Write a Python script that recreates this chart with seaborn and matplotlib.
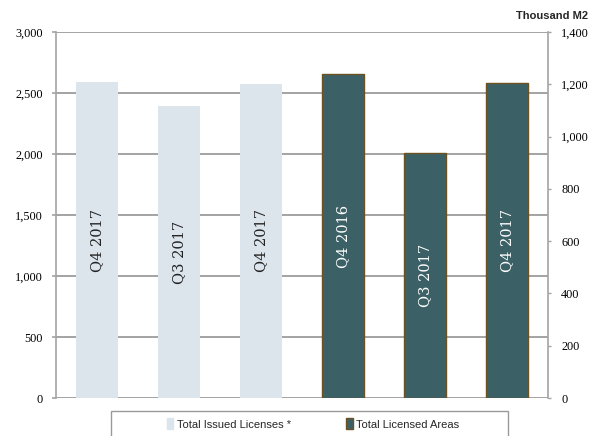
import matplotlib
matplotlib.use("Agg")
import matplotlib.pyplot as plt
from matplotlib.patches import Patch, Rectangle
import seaborn as sns
import pandas as pd

# Quarterly figures
license_periods = ["Q4 2017", "Q3 2017", "Q4 2017"]
issued_licenses = [2590, 2393, 2574]          # left axis (count)
area_periods = ["Q4 2016", "Q3 2017", "Q4 2017"]
licensed_areas = [1239, 936, 1204]            # right axis (thousand m2)

left_ticks = [0, 500, 1000, 1500, 2000, 2500, 3000]
right_ticks = [0, 200, 400, 600, 800, 1000, 1200, 1400]

light_color = "#dce4ec"
dark_color = "#3b6167"
edge_color = "#6b5220"
grid_color = "#a3a3a3"

sns.set_theme(style="white")
plt.rcParams["font.family"] = ["Liberation Serif", "DejaVu Serif"]

W, H = 592, 436
fig = plt.figure(figsize=(W / 100, H / 100), dpi=100)
ax = fig.add_axes([56 / W, 1 - 398 / H, 492 / W, 366 / H])
ax2 = ax.twinx()

df_left = pd.DataFrame({"slot": [0, 1, 2], "value": issued_licenses})
df_right = pd.DataFrame({"slot": [3, 4, 5], "value": licensed_areas})

sns.barplot(data=df_left, x="slot", y="value", native_scale=True, width=0.52,
            color=light_color, saturation=1, ax=ax, linewidth=0)
sns.barplot(data=df_right, x="slot", y="value", native_scale=True, width=0.52,
            color=dark_color, saturation=1, ax=ax2, edgecolor=edge_color, linewidth=1.0)

for a in (ax, ax2):
    a.set_xlim(-0.5, 5.5)
    a.set_xlabel("")
    a.set_ylabel("")
    a.set_xticks([])

ax.set_ylim(0, 3000)
ax2.set_ylim(0, 1400)
ax.set_yticks(left_ticks)
ax.set_yticklabels([f"{v:,}" for v in left_ticks])
ax2.set_yticks(right_ticks)
ax2.set_yticklabels([f"{v:,}" for v in right_ticks])

ax.set_axisbelow(True)
ax.yaxis.grid(True, color=grid_color, linewidth=1.4)
ax.xaxis.grid(False)

for a in (ax, ax2):
    for s in a.spines.values():
        s.set_visible(False)
ax.spines["left"].set_visible(True)
ax.spines["left"].set_color(grid_color)
ax.spines["left"].set_linewidth(1.2)
ax2.spines["right"].set_visible(True)
ax2.spines["right"].set_color(grid_color)
ax2.spines["right"].set_linewidth(1.2)

ax.tick_params(axis="y", left=True, length=3, width=1.2, color=grid_color,
               pad=6.5, labelsize=8.8, labelcolor="black")
ax2.tick_params(axis="y", right=True, length=2.5, width=1.0, color=grid_color,
                pad=7, labelsize=8.8, labelcolor="black")

# Period labels written vertically at mid-height of each bar
for i, (lab, v) in enumerate(zip(license_periods, issued_licenses)):
    ax.text(i, v / 2, lab, rotation=90, ha="center", va="center",
            fontsize=10.5, color="#222222", family=["DejaVu Serif"])
for i, (lab, v) in enumerate(zip(area_periods, licensed_areas)):
    ax2.text(i + 3, v / 2, lab, rotation=90, ha="center", va="center",
             fontsize=10.5, color="white", family=["DejaVu Serif"])

fig.text(588 / W, 1 - 16 / H, "Thousand M2", ha="right", va="center",
         fontsize=8, fontweight="bold",
         family=["Liberation Sans Narrow", "Liberation Sans", "DejaVu Sans"])

# Legend frame drawn separately, extending past the bottom edge
fig.patches.append(Rectangle((111 / W, -0.02), 397 / W, (436 - 411) / H + 0.02,
                             transform=fig.transFigure, facecolor="white",
                             edgecolor="#999999", linewidth=1.0, zorder=1))

handles = [Patch(facecolor=light_color, edgecolor=light_color, label="Total Issued Licenses *"),
           Patch(facecolor=dark_color, edgecolor=edge_color, label="Total Licensed Areas")]
leg = fig.legend(handles=handles, loc="center", bbox_to_anchor=(313 / W, 1 - 424 / H),
                 ncol=2, frameon=False, handlelength=0.6, handleheight=1.1,
                 handletextpad=0.3, columnspacing=5.0, borderpad=0.2,
                 prop={"family": ["Liberation Sans Narrow", "Liberation Sans"], "size": 8})
leg.set_zorder(2)

fig.savefig("out.png", dpi=100)
